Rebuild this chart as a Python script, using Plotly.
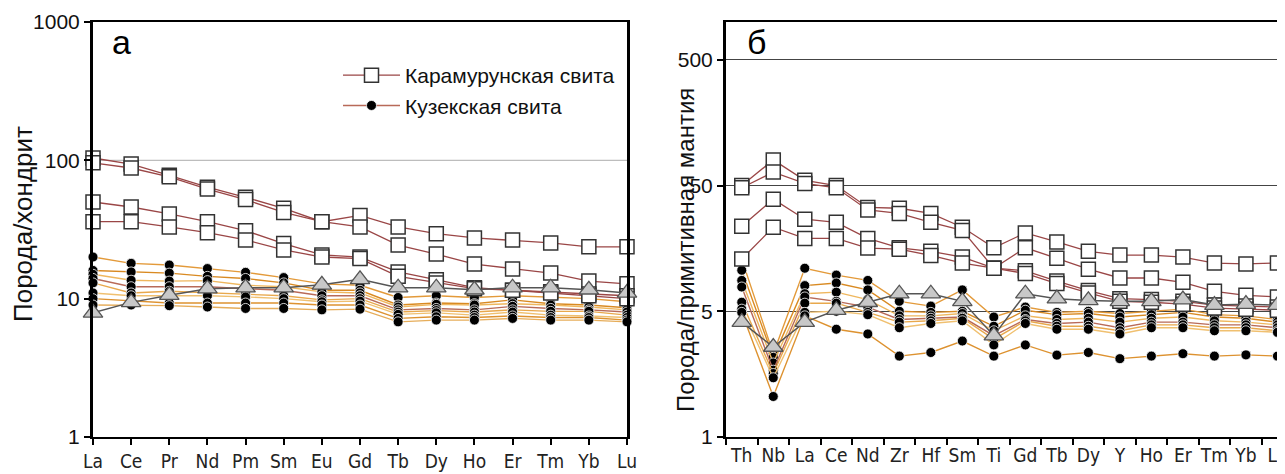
import math
import plotly.graph_objects as go

# ---------------- categories ----------------
ree = ["La", "Ce", "Pr", "Nd", "Pm", "Sm", "Eu", "Gd", "Tb", "Dy", "Ho", "Er", "Tm", "Yb", "Lu"]
spider = ["Th", "Nb", "La", "Ce", "Nd", "Zr", "Hf", "Sm", "Ti", "Gd", "Tb", "Dy", "Y", "Ho", "Er", "Tm", "Yb", "Lu"]

# ---------------- panel a: rock / chondrite ----------------
kar_a_1 = [104, 94, 78, 64, 54, 45, 36, 40, 33, 29.5, 27.5, 26.5, 25.3, 23.7, 23.7]
kar_a_2 = [96, 88, 76, 62, 52, 42, 36, 33, 24.4, 21, 17.8, 16.4, 15.3, 13.4, 12.8]
kar_a_3 = [50, 46, 41, 36, 31, 25, 20.7, 20, 15.6, 13.7, 12, 11.5, 11.2, 10.8, 10.5]
kar_a_4 = [36, 36, 33, 30, 26.6, 22.5, 20, 19.5, 14.5, 13, 11.8, 11.5, 11, 10.5, 10]

kuz_a_1 = [20, 18, 17.5, 16.5, 15.5, 14.2, 12.8, 12.5, 10.2, 10.5, 10.2, 10.5, 10.2, 10, 9.5]
kuz_a_2 = [16, 15.6, 15.3, 14.5, 14, 13, 11.5, 11.5, 9.0, 9.3, 9.2, 9.8, 9.2, 9.0, 8.6]
kuz_a_3 = [15, 13.6, 13.4, 13.5, 12.5, 12.2, 11.2, 11, 8.7, 9.1, 9.0, 9.2, 9.0, 8.7, 8.3]
kuz_a_4 = [14, 12.2, 12.2, 12.2, 11.8, 11.5, 10.5, 10.5, 8.3, 8.5, 8.3, 8.8, 8.5, 8.3, 8.0]
kuz_a_5 = [13, 11, 11.3, 11, 10.8, 10.5, 9.8, 10, 8.0, 8.2, 8.0, 8.3, 8.1, 8.1, 7.6]
kuz_a_6 = [11, 10.5, 10.5, 10.5, 10.3, 10, 9.5, 9.6, 7.7, 7.9, 7.6, 8.0, 7.6, 7.5, 7.3]
kuz_a_7 = [10, 9.6, 9.3, 9.3, 9.3, 9.3, 9.0, 9.0, 7.2, 7.4, 7.3, 7.5, 7.3, 7.3, 7.0]
kuz_a_8 = [9, 9.0, 8.9, 8.7, 8.5, 8.5, 8.3, 8.4, 6.8, 7.0, 7.0, 7.2, 7.0, 7.0, 6.8]

tri_a = [7.9, 9.4, 10.6, 11.8, 12, 12, 12.6, 13.8, 12, 12, 11.6, 12, 12, 11.6, 11]

# ---------------- panel b: rock / primitive mantle ----------------
kar_b_1 = [50, 80, 55, 50, 33.5, 33, 30, 23.3, 16, 21, 17.8, 15, 14, 14, 13.5, 12.1, 11.9, 12.1]
kar_b_2 = [48, 64, 52, 48, 32, 30, 25.5, 22, 11, 16, 13.2, 10.8, 9.2, 9.2, 8.5, 7.2, 6.7, 6.5]
kar_b_3 = [23.7, 39, 27, 25.5, 19, 16, 15, 13.5, 11, 10.5, 8.7, 7.3, 6.3, 6.2, 6.0, 5.6, 5.5, 5.4]
kar_b_4 = [13, 23.3, 19, 19, 15.9, 15.6, 13.9, 12.1, 11, 10, 8.3, 7.0, 6.0, 5.9, 5.7, 5.3, 5.2, 5.1]

kuz_b_1 = [13, 2.3, 11, 9.7, 8.8, 6.0, 5.5, 7.4, 4.5, 5.4, 4.9, 5.0, 4.8, 5.0, 5.2, 4.7, 4.6, 4.3]
kuz_b_2 = [10.6, 2.15, 8.0, 8.4, 7.4, 5.0, 4.9, 5.0, 3.8, 5.1, 4.7, 4.8, 4.5, 4.7, 4.9, 4.5, 4.4, 4.1]
kuz_b_3 = [8.8, 1.94, 6.9, 7.1, 6.2, 4.6, 4.6, 4.8, 3.5, 4.6, 4.3, 4.4, 4.1, 4.4, 4.5, 4.2, 4.1, 3.9]
kuz_b_4 = [7.8, 1.7, 6.5, 6.0, 5.4, 4.3, 4.4, 4.5, 3.2, 4.3, 4.0, 4.1, 3.7, 4.1, 4.1, 3.9, 3.9, 3.7]
kuz_b_5 = [5.9, 1.6, 5.8, 5.8, 4.9, 4.1, 4.2, 4.4, 3.0, 4.2, 3.8, 3.8, 3.5, 3.9, 3.9, 3.7, 3.7, 3.5]
kuz_b_6 = [5.2, 1.48, 4.9, 5.0, 4.7, 3.7, 4.0, 4.2, 2.7, 4.0, 3.6, 3.6, 3.3, 3.7, 3.7, 3.5, 3.5, 3.4]
kuz_b_7 = [4.9, 1.05, 4.6, 3.6, 3.3, 2.2, 2.35, 2.9, 2.2, 2.7, 2.24, 2.35, 2.1, 2.2, 2.3, 2.2, 2.25, 2.2]

tri_b = [4.1, 2.6, 4.1, 5.1, 5.9, 6.9, 6.9, 6.0, 3.2, 6.9, 6.3, 6.1, 6.0, 6.0, 6.2, 5.6, 5.7, 5.6]

kar_a = [kar_a_1, kar_a_2, kar_a_3, kar_a_4]
kuz_a = [kuz_a_1, kuz_a_2, kuz_a_3, kuz_a_4, kuz_a_5, kuz_a_6, kuz_a_7, kuz_a_8]
kar_b = [kar_b_1, kar_b_2, kar_b_3, kar_b_4]
kuz_b = [kuz_b_1, kuz_b_2, kuz_b_3, kuz_b_4, kuz_b_5, kuz_b_6, kuz_b_7]

LEG_KAR = "Карамурунская свита"
LEG_KUZ = "Кузекская свита"

kar_line = "#9a4646"
kuz_colors = ["#e39a3a", "#d98a22", "#efb75e", "#b86a58", "#e8a84c", "#f0c070", "#dd9230", "#e6ad5a"]

fig = go.Figure()


def add_group(cats, series_list, xa, ya, kind, legend_index=None):
    for i, vals in enumerate(series_list):
        if kind == "kuz":
            line = dict(color=kuz_colors[i % len(kuz_colors)], width=1.4)
            marker = dict(symbol="circle", size=10, color="black", line=dict(color="white", width=0.8))
            name, group, rank = LEG_KUZ, "kuz", 2
        elif kind == "kar":
            line = dict(color=kar_line, width=1.3)
            marker = dict(symbol="square", size=14, color="white", line=dict(color="#333333", width=1.5))
            name, group, rank = LEG_KAR, "kar", 1
        else:
            line = dict(color="#555555", width=1.5)
            marker = dict(symbol="triangle-up", size=17, color="#c8c8c8", line=dict(color="#555555", width=1.3))
            name, group, rank = "tri", "tri", 3
        fig.add_trace(go.Scatter(
            x=cats, y=vals, xaxis=xa, yaxis=ya, mode="lines+markers",
            line=line, marker=marker, name=name, legendgroup=group, legendrank=rank,
            showlegend=(legend_index is not None and i == legend_index),
            cliponaxis=False, hoverinfo="skip"))


add_group(ree, kuz_a, "x", "y", "kuz", legend_index=3)
add_group(ree, kar_a, "x", "y", "kar", legend_index=0)
add_group(ree, [tri_a], "x", "y", "tri")
add_group(spider, kuz_b, "x2", "y2", "kuz")
add_group(spider, kar_b, "x2", "y2", "kar")
add_group(spider, [tri_b], "x2", "y2", "tri")

# The page body adds an 8 px offset; positions below are given in window pixels.
OFF = 8
WIN_W, WIN_H = 1285, 474
W, H = WIN_W - OFF, WIN_H - OFF


def px(x):
    return (x - OFF) / W


def py(y):
    return 1 - (y - OFF) / H


ydom = [py(437), py(22)]
tickfont = dict(family="DejaVu Sans Condensed, Liberation Sans Narrow, Arial Narrow, Liberation Sans, sans-serif",
                size=19, color="#222")
yfont = dict(family="Liberation Sans, Arial, sans-serif", size=21, color="#111")

fig.update_layout(
    width=W, height=H,
    margin=dict(l=0, r=0, t=0, b=0, autoexpand=False),
    paper_bgcolor="white", plot_bgcolor="white",
    showlegend=True,
    legend=dict(x=px(338), y=py(55), xanchor="left", yanchor="top",
                bgcolor="rgba(0,0,0,0)", font=dict(family="Liberation Sans, Arial, sans-serif", size=21, color="#111"),
                itemwidth=57, tracegroupgap=15, traceorder="normal"),
    xaxis=dict(domain=[px(93), px(627)], type="category", categoryorder="array", categoryarray=ree,
               range=[0, 14], showline=True, linecolor="black", linewidth=2, mirror=True,
               ticks="outside", ticklen=6, tickcolor="black", tickwidth=1.5, tickfont=tickfont, tickangle=0,
               showgrid=False, zeroline=False, anchor="y", automargin=False),
    yaxis=dict(domain=ydom, type="log", range=[0, 3], tickvals=[1, 10, 100, 1000],
               ticktext=["1", "10", "100", "1000"],
               showline=True, linecolor="black", linewidth=3, mirror=True,
               ticks="outside", ticklen=6, tickcolor="black", tickwidth=1.5, tickfont=yfont,
               showgrid=False, zeroline=False, anchor="x", automargin=False),
    xaxis2=dict(domain=[px(726), 1.0], type="category", categoryorder="array", categoryarray=spider,
                range=[-0.5, 17.24], showline=True, linecolor="black", linewidth=2, mirror=True,
                ticks="outside", ticklen=6, tickcolor="black", tickwidth=1.5, tickson="boundaries",
                tickfont=tickfont, tickangle=0, showgrid=False, zeroline=False, anchor="y2", automargin=False),
    yaxis2=dict(domain=ydom, type="log", range=[math.log10(0.5), 3.0],
                tickvals=[0.5, 5, 50, 500], ticktext=["1", "5", "50", "500"],
                showline=True, linecolor="black", linewidth=3, mirror=False,
                ticks="outside", ticklen=6, tickcolor="black", tickwidth=1.5, tickfont=yfont,
                showgrid=True, gridcolor="#444", gridwidth=1, zeroline=False, anchor="x2", automargin=False),
    shapes=[dict(type="line", xref="x domain", yref="y", x0=0, x1=1, y0=100, y1=100,
                 line=dict(color="#bdbdbd", width=1.2), layer="below")],
    annotations=[
        dict(text="а", xref="paper", yref="paper", x=px(121), y=py(42), xanchor="center", yanchor="middle",
             showarrow=False, font=dict(family="Liberation Sans, Arial, sans-serif", size=34, color="black")),
        dict(text="б", xref="paper", yref="paper", x=px(756), y=py(42), xanchor="center", yanchor="middle",
             showarrow=False, font=dict(family="Liberation Sans, Arial, sans-serif", size=34, color="black")),
        dict(text="Порода/хондрит", xref="paper", yref="paper", x=px(23), y=py(224),
             xanchor="center", yanchor="middle", showarrow=False, textangle=-90,
             font=dict(family="Liberation Sans, Arial, sans-serif", size=26, color="#111")),
        dict(text="Порода/примитивная мантия", xref="paper", yref="paper", x=px(686), y=py(250),
             xanchor="center", yanchor="middle", showarrow=False, textangle=-90,
             font=dict(family="Liberation Sans, Arial, sans-serif", size=24, color="#111")),
    ],
)

fig.write_html("out.html")
